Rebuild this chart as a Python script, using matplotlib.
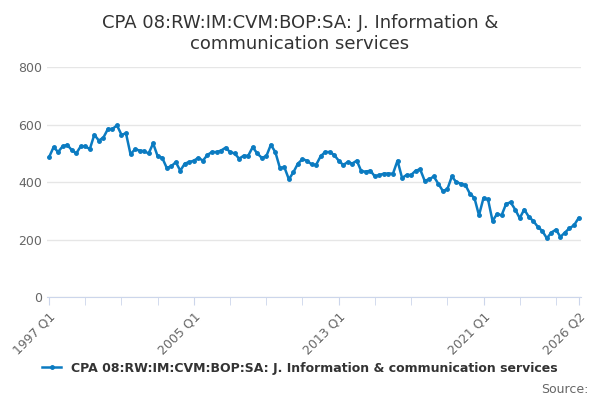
import numpy as np
import matplotlib.pyplot as plt

values = [
    487, 522, 505, 525,  530, 512, 500, 525,  525, 515, 565, 545,
    555, 585, 585, 598,  565, 570, 497, 515,  510, 508, 500, 535,
    490, 485, 450, 455,  470, 440, 465, 470,  475, 485, 475, 495,
    505, 505, 510, 520,  505, 500, 482, 492,  492, 522, 500, 485,
    490, 530, 505, 450,  452, 410, 435, 465,  480, 475, 462, 460,
    490, 505, 505, 495,  475, 460, 470, 465,  475, 438, 437, 440,
    420, 425, 430, 430,  430, 475, 415, 425,  425, 440, 445, 405,
    410, 420, 395, 370,  375, 420, 400, 395,  390, 360, 345, 285,
    345, 340, 265, 290,  285, 325, 330, 305,  275, 305, 280, 265,
    245, 230, 205, 225,  235, 210, 225, 240,
    250, 275,
]
labels = [f"{1997 + i // 4} Q{i % 4 + 1}" for i in range(len(values))]
tick_labels = ["1997 Q1", "2005 Q1", "2013 Q1", "2021 Q1", "2026 Q2"]
name = "CPA 08:RW:IM:CVM:BOP:SA: J. Information & communication services"

fig = plt.figure(figsize=(6, 4), dpi=100)
ax = fig.add_axes([0.078, 0.257, 0.89, 0.575])
x = np.arange(len(values))
ax.plot(x, values, color="#0b7bc1", lw=1.8, marker="o", ms=2.5, label=name)

ax.set_ylim(0, 800)
ax.set_yticks([0, 200, 400, 600, 800])
ax.set_xlim(-0.5, len(values) - 0.5)
ax.set_xticks([labels.index(t) for t in tick_labels])
ax.set_xticklabels(tick_labels, rotation=45, ha="right", rotation_mode="anchor")
ax.set_xticks(list(range(0, len(values), 8)) + [len(values) - 1], minor=True)
ax.tick_params(axis="x", which="both", length=6, color="#ccd6eb", labelsize=9, labelcolor="#666666")
ax.tick_params(axis="y", length=0, labelsize=9, labelcolor="#666666")
ax.grid(axis="y", color="#e6e6e6", lw=1)
for s in ["top", "right", "left"]:
    ax.spines[s].set_visible(False)
ax.spines["bottom"].set_color("#ccd6eb")
ax.set_axisbelow(True)

fig.text(0.5, 0.965, "CPA 08:RW:IM:CVM:BOP:SA: J. Information &\ncommunication services",
         ha="center", va="top", fontsize=13, color="#333333", linespacing=1.2)
fig.legend(loc="lower center", bbox_to_anchor=(0.5, 0.035), frameon=False,
           prop={"size": 9, "weight": "bold"}, labelcolor="#333333", handlelength=1.5)
fig.text(0.98, 0.01, "Source:", ha="right", va="bottom", fontsize=9, color="#666666")

fig.savefig("out.png", dpi=100)
